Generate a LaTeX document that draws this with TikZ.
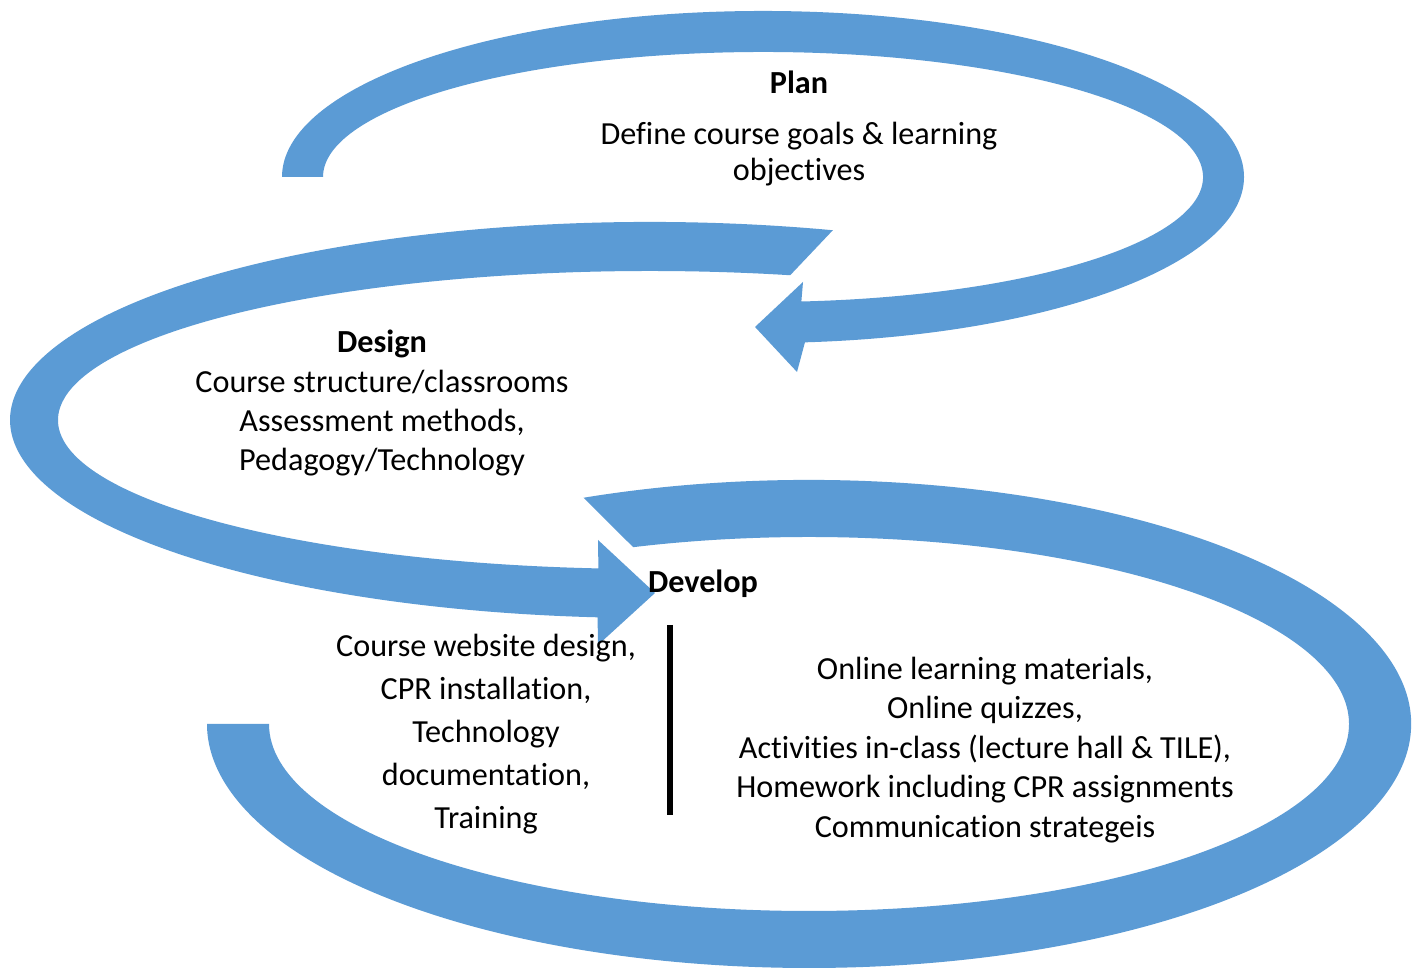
\documentclass[tikz,border=0pt]{standalone}
\usepackage{fontspec}
\setmainfont{Carlito}[Ligatures=NoCommon]
\usepackage{tikz}
\usetikzlibrary{positioning,calc}
\definecolor{arrowblue}{RGB}{91,155,213}
\tikzstyle{band}  = [fill=arrowblue]
\tikzstyle{stage} = [font=\fontsize{9.15}{11.2}\selectfont\bfseries, inner sep=0pt]
\tikzstyle{txt}   = [align=center, inner sep=0pt, font=\fontsize{9.15}{11.2}\selectfont]
\tikzstyle{rule}  = [draw, line width=1.6pt]

\begin{document}
\begin{tikzpicture}[x=0.01cm, y=0.01cm]
    \useasboundingbox[fill=white] (0,0) rectangle (1416,971);

    \coordinate (topc) at (763,794);
    \coordinate (midc) at (650,551);
    \coordinate (botc) at (809,247);

    % plan arrow
    \fill[band] ($(topc)+(180:481 and 166)$) arc[start angle=180, end angle=-85, x radius=481, y radius=166]
        -- (797,599) -- (755,644) -- (803,689)
        -- ($(topc)+(-85:440 and 125)$) arc[start angle=-85, end angle=180, x radius=440, y radius=125] -- cycle;

    % design arrow
    \fill[band] ($(midc)+(73.4:640 and 198)$) arc[start angle=73.4, end angle=265.3, x radius=640, y radius=198]
        -- (598,326) -- (655,378) -- (598,431)
        -- ($(midc)+(265:592 and 149)$) arc[start angle=265, end angle=76.3, x radius=592, y radius=149] -- cycle;

    % develop arrow
    \fill[band] ($(botc)+(112:602 and 244)$) arc[start angle=112, end angle=-180, x radius=602, y radius=244]
        -- ($(botc)+(180:540 and 187)$) arc[start angle=-180, end angle=109, x radius=540, y radius=187] -- cycle;

    \node[stage] (plan) at (799,889) {Plan};
    \node[txt, below=2.7mm of plan, font=\fontsize{9.15}{10.24}\selectfont] (plantxt)
        {Define course goals \& learning\\objectives};

    \node[stage] (design) at (382,627) {Design};
    \node[txt, below=1.1mm of design, font=\fontsize{9.15}{11.1}\selectfont] (designtxt)
        {Course structure/classrooms\\Assessment methods,\\Pedagogy/Technology};

    \node[stage] (develop) at (703,387) {Develop};
    \node[txt, font=\fontsize{9.15}{12.23}\selectfont] (devleft) at (486,237)
        {Course website design,\\CPR installation,\\Technology\\documentation,\\Training};
    \node[txt, font=\fontsize{9.15}{11.24}\selectfont] (devright) at (985,221)
        {Online learning materials,\\Online quizzes,\\Activities in-class (lecture hall \& TILE),\\Homework including CPR assignments\\Communication strategeis};

    \coordinate (bartop) at (670,346);
    \coordinate (barbot) at (670,156);
    \draw[rule] (bartop) -- (barbot);

\end{tikzpicture}
\end{document}
